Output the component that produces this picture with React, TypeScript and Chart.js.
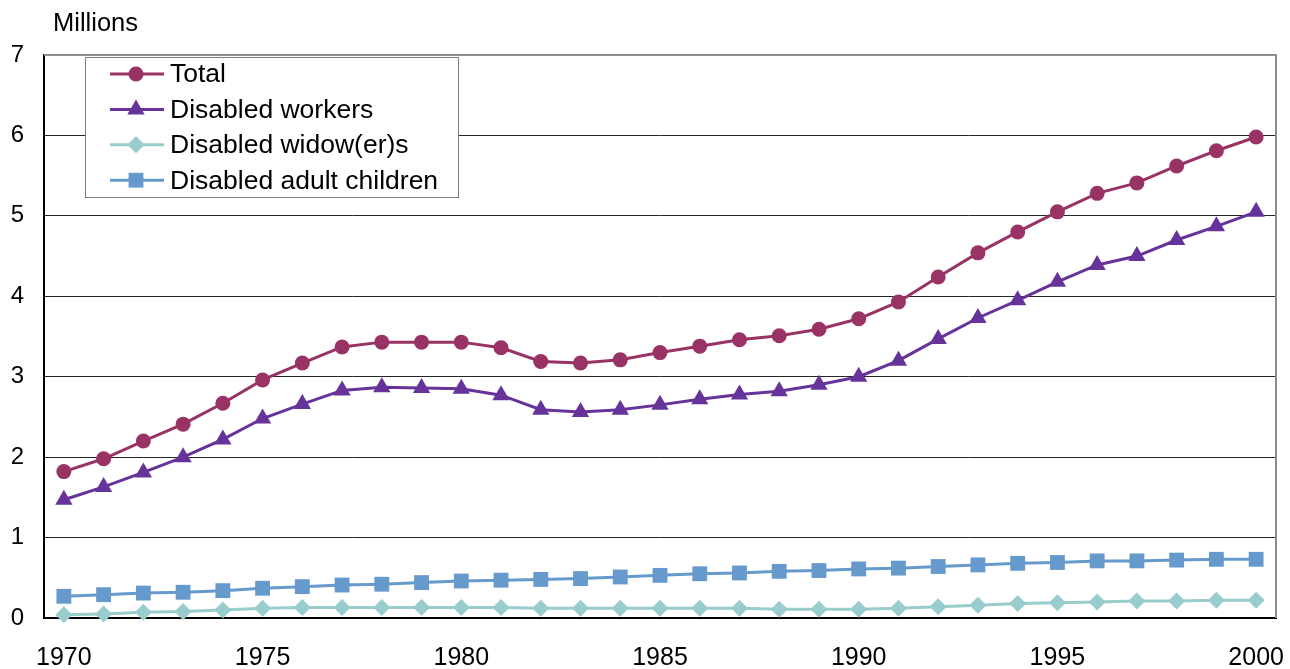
import React, { useEffect, useRef } from 'react';
import { Chart, registerables } from 'chart.js';
import { drawPoint } from 'chart.js/helpers';

Chart.register(...registerables);

const years = [
  '1970', '1971', '1972', '1973', '1974', '1975', '1976', '1977', '1978', '1979',
  '1980', '1981', '1982', '1983', '1984', '1985', '1986', '1987', '1988', '1989',
  '1990', '1991', '1992', '1993', '1994', '1995', '1996', '1997', '1998', '1999', '2000',
];
const shownYears = ['1970', '1975', '1980', '1985', '1990', '1995', '2000'];

const total = [
  1.82, 1.98, 2.2, 2.41, 2.67, 2.96, 3.17, 3.37, 3.43, 3.43,
  3.43, 3.36, 3.19, 3.17, 3.21, 3.3, 3.38, 3.46, 3.51, 3.59,
  3.72, 3.93, 4.24, 4.54, 4.8, 5.05, 5.28, 5.41, 5.62, 5.81, 5.98,
];
const disabledWorkers = [
  1.47, 1.63, 1.81, 2.0, 2.22, 2.48, 2.66, 2.83, 2.87, 2.86,
  2.85, 2.77, 2.59, 2.56, 2.59, 2.65, 2.72, 2.78, 2.82, 2.9,
  3.0, 3.2, 3.47, 3.73, 3.95, 4.18, 4.39, 4.5, 4.7, 4.87, 5.05,
];
const disabledWidowers = [
  0.04, 0.05, 0.07, 0.08, 0.1, 0.12, 0.13, 0.13, 0.13, 0.13,
  0.13, 0.13, 0.12, 0.12, 0.12, 0.12, 0.12, 0.12, 0.11, 0.11,
  0.11, 0.12, 0.14, 0.16, 0.18, 0.19, 0.2, 0.21, 0.21, 0.22, 0.22,
];
const disabledAdultChildren = [
  0.27, 0.29, 0.31, 0.32, 0.34, 0.37, 0.39, 0.41, 0.42, 0.44,
  0.46, 0.47, 0.48, 0.49, 0.51, 0.53, 0.55, 0.56, 0.58, 0.59,
  0.61, 0.62, 0.64, 0.66, 0.68, 0.69, 0.71, 0.71, 0.72, 0.73, 0.73,
];

const FONT = '"Liberation Sans", Arial, Helvetica, sans-serif';

const extrasPlugin = {
  id: 'extras',
  afterDraw(chart: any) {
    const ctx = chart.ctx as CanvasRenderingContext2D;
    const area = chart.chartArea;
    ctx.save();
    // frame (top and right, grey)
    ctx.strokeStyle = '#8c8c8c';
    ctx.lineWidth = 2;
    ctx.beginPath();
    ctx.moveTo(area.left, area.top);
    ctx.lineTo(area.right, area.top);
    ctx.lineTo(area.right, area.bottom);
    ctx.stroke();

    // axis unit title
    ctx.fillStyle = '#000';
    ctx.font = `25.5px ${FONT}`;
    ctx.textAlign = 'left';
    ctx.textBaseline = 'middle';
    ctx.fillText('Millions', 53, 24);

    // legend box
    const bx = 85.5, by = 57.5, bw = 373, bh = 140;
    ctx.fillStyle = '#ffffff';
    ctx.fillRect(bx, by, bw, bh);
    ctx.strokeStyle = '#7f7f7f';
    ctx.lineWidth = 1;
    ctx.strokeRect(bx, by, bw, bh);
    chart.data.datasets.forEach((ds: any, i: number) => {
      const y = 74 + i * 35.4;
      ctx.strokeStyle = ds.borderColor;
      ctx.lineWidth = 3;
      ctx.beginPath();
      ctx.moveTo(110, y);
      ctx.lineTo(164, y);
      ctx.stroke();
      ctx.fillStyle = ds.pointBackgroundColor;
      ctx.strokeStyle = ds.pointBackgroundColor;
      drawPoint(ctx, { pointStyle: ds.pointStyle, radius: ds.pointRadius, rotation: 0, borderWidth: 0 }, 136, y);
      ctx.fillStyle = '#000';
      ctx.font = `26.5px ${FONT}`;
      ctx.textAlign = 'left';
      ctx.textBaseline = 'middle';
      ctx.fillText(ds.label, 170, y + 1);
    });
    ctx.restore();
  },
};

function makeDataset(label: string, data: number[], color: string, style: string, radius: number) {
  return {
    label,
    data,
    borderColor: color,
    backgroundColor: color,
    pointBackgroundColor: color,
    pointBorderColor: color,
    pointBorderWidth: 0,
    pointStyle: style,
    pointRadius: radius,
    pointHoverRadius: radius,
    borderWidth: 3,
    tension: 0,
    clip: false as any,
  };
}

export default function App() {
  const canvasRef = useRef<HTMLCanvasElement | null>(null);

  useEffect(() => {
    document.body.style.margin = '0';
    const canvas = canvasRef.current;
    if (!canvas) return;
    const chart = new Chart(canvas, {
      type: 'line',
      data: {
        labels: years,
        datasets: [
          makeDataset('Total', total, '#993366', 'circle', 7.5),
          makeDataset('Disabled workers', disabledWorkers, '#66339a', 'triangle', 10),
          makeDataset('Disabled widow(er)s', disabledWidowers, '#99cccc', 'rectRot', 8.5),
          makeDataset('Disabled adult children', disabledAdultChildren, '#6699cc', 'rect', 10.5),
        ],
      },
      options: {
        animation: false,
        responsive: true,
        maintainAspectRatio: false,
        layout: { padding: { top: 55, right: 14, left: 0, bottom: 0 } },
        plugins: {
          legend: { display: false },
          tooltip: { enabled: false },
          title: { display: false },
        },
        scales: {
          x: {
            type: 'category',
            offset: true,
            grid: { display: false, drawTicks: false },
            border: { display: true, color: '#000', width: 2 },
            ticks: {
              autoSkip: false,
              maxRotation: 0,
              padding: 25,
              color: '#000',
              font: { family: FONT, size: 25 },
              callback: function (this: any, _v: any, index: number) {
                const lab = years[index];
                return shownYears.includes(lab) ? lab : '';
              },
            },
            afterFit(scale: any) {
              scale.height = 51;
              scale.paddingLeft = 0;
              scale.paddingRight = 0;
            },
          },
          y: {
            min: 0,
            max: 7,
            grid: {
              color: (c: any) => (c.tick && c.tick.value === 7 ? 'rgba(0,0,0,0)' : '#262626'),
              lineWidth: 1,
              drawTicks: false,
            },
            border: { display: true, color: '#000', width: 2 },
            ticks: {
              stepSize: 1,
              padding: 20,
              color: '#000',
              font: { family: FONT, size: 24 },
            },
            afterFit(scale: any) {
              scale.width = 44;
            },
          },
        },
      },
      plugins: [extrasPlugin],
    });
    return () => chart.destroy();
  }, []);

  return (
    <div style={{ position: 'absolute', left: 0, top: 0, width: 1290, height: 669, background: '#fff' }}>
      <canvas ref={canvasRef} />
    </div>
  );
}
